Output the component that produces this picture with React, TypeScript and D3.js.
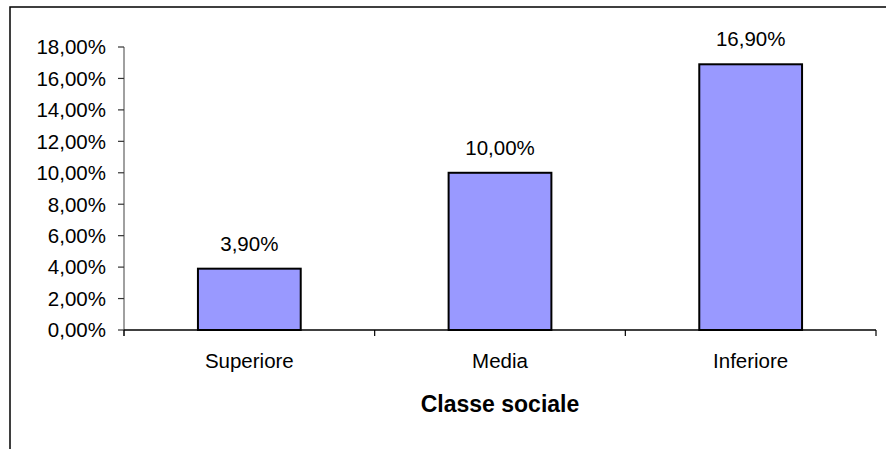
import React from "react";
import * as d3 from "d3";

const categories = ["Superiore", "Media", "Inferiore"];
const values = [3.9, 10.0, 16.9];
const yTicks = [0, 2, 4, 6, 8, 10, 12, 14, 16, 18];
const xTitle = "Classe sociale";

const fmt = (v: number) => v.toFixed(2).replace(".", ",") + "%";

export default function App() {
  const W = 886, H = 449;
  const left = 124, right = 876, top = 47, bottom = 330;
  const x = d3.scaleBand().domain(categories).range([left, right]).paddingInner(0.59).paddingOuter(0.295);
  const xb = d3.scaleBand().domain(categories).range([left, right]);
  const y = d3.scaleLinear().domain([0, 18]).range([bottom, top]);
  const font = "'Liberation Sans', Arial, sans-serif";
  return (
    <svg width={W} height={H} style={{ position: "absolute", left: 0, top: 0, display: "block" }} fontFamily={font}>
      <rect x={0} y={0} width={W} height={H} fill="#fff" />
      <rect x={10} y={7} width={900} height={480} fill="none" stroke="#000" strokeWidth={1.5} />
      {/* y axis */}
      <line x1={left} x2={left} y1={top} y2={bottom + 6} stroke="#808080" strokeWidth={1.5} />
      {yTicks.map((t) => (
        <g key={t}>
          <line x1={left - 6} x2={left} y1={y(t)} y2={y(t)} stroke="#333" strokeWidth={1.2} />
          <text x={106} y={y(t)} dy="0.36em" textAnchor="end" fontSize={20.5} fill="#000">
            {fmt(t)}
          </text>
        </g>
      ))}
      {/* bars */}
      {categories.map((c, i) => (
        <g key={c}>
          <rect
            x={x(c)!}
            y={y(values[i])}
            width={x.bandwidth()}
            height={bottom - y(values[i])}
            fill="#9999FF"
            stroke="#000"
            strokeWidth={2}
          />
          <text x={x(c)! + x.bandwidth() / 2} y={y(values[i]) - 18} textAnchor="middle" fontSize={20.5} fill="#000">
            {fmt(values[i])}
          </text>
          <text x={xb(c)! + xb.bandwidth() / 2} y={368} textAnchor="middle" fontSize={20.5} fill="#000">
            {c}
          </text>
        </g>
      ))}
      {/* x axis */}
      <line x1={left} x2={right} y1={bottom} y2={bottom} stroke="#000" strokeWidth={1.5} />
      {[...categories.map((c) => xb(c)!), right].map((tx, i) => (
        <line key={i} x1={tx} x2={tx} y1={bottom} y2={bottom + 6} stroke="#000" strokeWidth={1.2} />
      ))}
      <text x={500} y={412} textAnchor="middle" fontSize={23} fontWeight="bold" fill="#000">
        {xTitle}
      </text>
    </svg>
  );
}
